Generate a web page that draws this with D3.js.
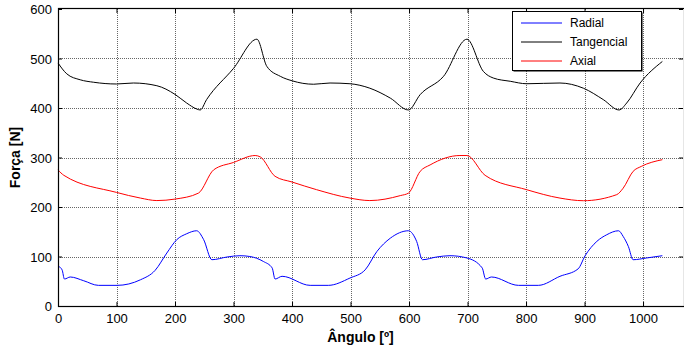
<!DOCTYPE html>
<html>
<head>
<meta charset="utf-8">
<script src="https://cdn.jsdelivr.net/npm/d3@7"></script>
<style>
  body { margin: 0; background: #fff; }
  svg { display: block; font-family: "Liberation Sans", Arial, sans-serif; }
</style>
</head>
<body>
<div id="chart"></div>
<script>
// angle (deg) and force (N)
const radialX = [1, 7, 11, 21, 44, 69, 101, 141, 166, 186, 203, 220, 237, 249, 263, 289, 311, 328, 351, 366, 371, 383, 431, 462, 499, 525, 545, 568, 599, 613, 623, 647, 670, 699, 725, 731, 741, 787, 821, 858, 889, 901, 921, 938, 958, 966, 975, 983, 1006, 1033];
const radialY = [80, 73, 54.5, 58.6, 51, 41.7, 41.7, 53, 72, 107, 134, 146, 152, 134, 93.5, 99, 101.6, 100, 90, 77, 54.5, 60, 41.7, 41.7, 56.5, 73, 110, 137, 152, 130.5, 93.5, 99, 101.6, 97, 77, 54.5, 58.6, 41.7, 41.7, 60, 75, 101.6, 130.5, 144, 152, 140.6, 120, 93.5, 97, 101.6];

const tangX = [0, 15, 38, 61, 100, 129, 169, 200, 220, 237, 243, 254, 300, 340, 357, 380, 400, 437, 465, 499, 533, 568, 599, 619, 659, 699, 727, 744, 773, 801, 858, 898, 932, 959, 972, 995, 1033];
const tangY = [491, 469, 457, 452, 448.5, 450.5, 445, 427.5, 410, 398, 396, 417, 480, 539, 484, 464, 455, 448, 450.5, 449, 440, 420, 396, 427, 464, 539, 474, 460.6, 454, 449, 450.5, 440, 417, 396, 410, 450.5, 494];

const axialX = [0, 10, 100, 141, 169, 200, 240, 266, 300, 337, 346, 371, 400, 442, 499, 533, 585, 599, 619, 636, 687, 699, 730, 801, 858, 898, 955, 966, 983, 997, 1033];
const axialY = [275, 264, 229.5, 218, 213, 216, 228, 275, 290, 304, 301, 262, 250.5, 235, 218, 213, 223, 228, 272, 285, 304, 304, 264, 235, 218, 212.7, 225, 238, 272, 282, 295.6];

const seriesNames = ["Radial", "Tangencial", "Axial"];
const seriesColors = ["#0000ff", "#000000", "#ff0000"];
const xTicks = [0, 100, 200, 300, 400, 500, 600, 700, 800, 900, 1000];
const yTicks = [0, 100, 200, 300, 400, 500, 600];

const W = 684, H = 347;
const m = { left: 58, right: 0, top: 9, bottom: 41 };

const svg = d3.select("#chart").append("svg")
    .attr("width", W).attr("height", H);

const x = d3.scaleLinear().domain([0, 1070]).range([m.left, W - m.right]);
const y = d3.scaleLinear().domain([0, 600]).range([H - m.bottom, m.top]);

// grid
const grid = svg.append("g")
    .attr("stroke", "#666")
    .attr("stroke-width", 1)
    .attr("stroke-dasharray", "1,1");
grid.selectAll(".gx").data(xTicks.slice(1)).enter().append("line")
    .attr("x1", d => Math.round(x(d)) + 0.5).attr("x2", d => Math.round(x(d)) + 0.5)
    .attr("y1", y(600)).attr("y2", y(0));
grid.selectAll(".gy").data(yTicks.slice(1, -1)).enter().append("line")
    .attr("x1", x(0)).attr("x2", W)
    .attr("y1", d => Math.round(y(d)) + 0.5).attr("y2", d => Math.round(y(d)) + 0.5);

// lines
const series = [
    { xs: radialX, ys: radialY },
    { xs: tangX, ys: tangY },
    { xs: axialX, ys: axialY }
];
const line = d3.line().x(d => x(d[0])).y(d => y(d[1])).curve(d3.curveMonotoneX);
series.forEach((s, i) => {
    svg.append("path")
        .datum(s.xs.map((v, j) => [v, s.ys[j]]))
        .attr("fill", "none")
        .attr("stroke", seriesColors[i])
        .attr("stroke-width", 1)
        .attr("d", line);
});

// axes (ticks inward, mirrored on top/right)
const xAxis = d3.axisBottom(x).tickValues(xTicks).tickFormat(d3.format("d")).tickSize(-4).tickPadding(8);
const gx = svg.append("g").attr("transform", `translate(0,${y(0)})`).call(xAxis);
const yAxis = d3.axisLeft(y).tickValues(yTicks).tickFormat(d3.format("d")).tickSize(-4).tickPadding(6);
const gy = svg.append("g").attr("transform", `translate(${x(0)},0)`).call(yAxis);
[gx, gy].forEach(g => {
    g.select(".domain").remove();
    g.selectAll("text").attr("font-size", 13).attr("fill", "#000")
        .style("font-family", "Liberation Sans, Arial, sans-serif");
    g.selectAll("line").attr("stroke", "#000");
});
gy.selectAll("text").attr("dy", "0.35em");

const gxTop = svg.append("g").attr("transform", `translate(0,${y(600)})`)
    .call(d3.axisTop(x).tickValues(xTicks).tickSize(-4).tickFormat(""));
const gyRight = svg.append("g").attr("transform", `translate(${W - 1},0)`)
    .call(d3.axisRight(y).tickValues(yTicks).tickSize(-4).tickFormat(""));
[gxTop, gyRight].forEach(g => {
    g.select(".domain").remove();
    g.selectAll("line").attr("stroke", "#000");
});

// frame
svg.append("rect")
    .attr("x", x(0) + 0.5).attr("y", y(600) - 0.5)
    .attr("width", W - x(0)).attr("height", y(0) - y(600) + 1)
    .attr("fill", "none").attr("stroke", "#000").attr("stroke-width", 1.2);

// axis titles
svg.append("text")
    .attr("x", x(500) + 10).attr("y", 342)
    .attr("text-anchor", "middle")
    .attr("font-size", 14).attr("font-weight", "bold")
    .text("Ângulo [º]");
svg.append("text")
    .attr("transform", `translate(20,${(y(0) + y(600)) / 2}) rotate(-90)`)
    .attr("text-anchor", "middle")
    .attr("font-size", 14).attr("font-weight", "bold")
    .text("Força [N]");

// legend
const lg = svg.append("g").attr("transform", "translate(512,11)");
lg.append("rect").attr("x", 1.5).attr("y", 1.5).attr("width", 129).attr("height", 59)
    .attr("fill", "#000");
lg.append("rect").attr("x", 0.5).attr("y", 0.5).attr("width", 129).attr("height", 59)
    .attr("fill", "#fff").attr("stroke", "#000").attr("stroke-width", 1);
seriesNames.forEach((name, i) => {
    const yy = 12 + i * 19;
    lg.append("line").attr("x1", 9).attr("x2", 50).attr("y1", yy).attr("y2", yy)
        .attr("stroke", seriesColors[i]).attr("stroke-width", 1);
    lg.append("text").attr("x", 58).attr("y", yy).attr("dy", "0.35em")
        .attr("font-size", 12).text(name);
});
</script>
</body>
</html>
